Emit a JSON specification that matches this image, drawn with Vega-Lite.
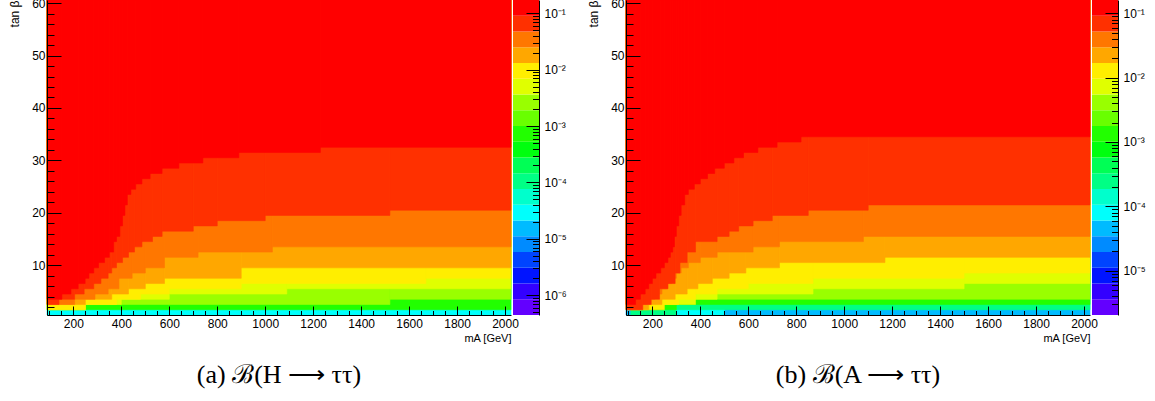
{
"$schema": "https://vega.github.io/schema/vega-lite/v6.json",
"background": "white",
"padding": {"left": 7, "top": -3, "right": 5, "bottom": 5},
"config": {
  "view": {"stroke": null},
  "font": "Liberation Sans",
  "axis": {"labelFont": "Liberation Sans", "titleFont": "Liberation Sans", "labelColor": "black", "titleColor": "black", "tickColor": "black", "domainColor": "black", "grid": false, "labelFlush": false, "labelOverlap": false, "titleFontWeight": "normal", "labelFontSize": 12, "titleFontSize": 12, "tickOpacity": 1},
  "title": {"font": "Liberation Serif", "fontSize": 26, "fontWeight": "normal", "color": "black"}
},
"datasets": {
"heatA": [
{"m0":90,"m1":2025,"t":0.5,"br":2.92e-5},
{"m0":90,"m1":2025,"t":1.5,"br":7.27e-4},
{"m0":90,"m1":1520,"t":2.5,"br":2.63e-3},{"m0":1520,"m1":2025,"t":3.5,"br":2.63e-3},
{"m0":90,"m1":250,"t":1.5,"br":0.005},{"m0":250,"m1":400,"t":2.5,"br":0.005},{"m0":400,"m1":600,"t":3.5,"br":0.005},{"m0":600,"m1":1090,"t":4.5,"br":0.005},{"m0":1090,"m1":2025,"t":5.5,"br":0.005},
{"m0":90,"m1":250,"t":1.5,"br":0.00951},{"m0":250,"m1":380,"t":2.5,"br":0.00951},{"m0":380,"m1":480,"t":3.5,"br":0.00951},{"m0":480,"m1":600,"t":4.5,"br":0.00951},{"m0":600,"m1":900,"t":5.5,"br":0.00951},{"m0":900,"m1":1670,"t":6.5,"br":0.00951},{"m0":1670,"m1":2025,"t":7.5,"br":0.00951},
{"m0":90,"m1":250,"t":2.5,"br":0.0181},{"m0":250,"m1":360,"t":3.5,"br":0.0181},{"m0":360,"m1":430,"t":4.5,"br":0.0181},{"m0":430,"m1":500,"t":5.5,"br":0.0181},{"m0":500,"m1":580,"t":6.5,"br":0.0181},{"m0":580,"m1":900,"t":7.5,"br":0.0181},{"m0":900,"m1":2025,"t":9.5,"br":0.0181},
{"m0":90,"m1":205,"t":2.5,"br":0.0344},{"m0":205,"m1":290,"t":3.5,"br":0.0344},{"m0":290,"m1":345,"t":4.5,"br":0.0344},{"m0":345,"m1":390,"t":5.5,"br":0.0344},{"m0":390,"m1":445,"t":7.5,"br":0.0344},{"m0":445,"m1":500,"t":8.5,"br":0.0344},{"m0":500,"m1":580,"t":9.5,"br":0.0344},{"m0":580,"m1":720,"t":11.5,"br":0.0344},{"m0":720,"m1":1030,"t":12.5,"br":0.0344},{"m0":1030,"m1":2025,"t":13.5,"br":0.0344},
{"m0":90,"m1":140,"t":2.5,"br":0.0655},{"m0":140,"m1":205,"t":3.5,"br":0.0655},{"m0":205,"m1":245,"t":4.5,"br":0.0655},{"m0":245,"m1":285,"t":5.5,"br":0.0655},{"m0":285,"m1":315,"t":6.5,"br":0.0655},{"m0":315,"m1":345,"t":7.5,"br":0.0655},{"m0":345,"m1":360,"t":8.5,"br":0.0655},{"m0":360,"m1":380,"t":9.5,"br":0.0655},{"m0":380,"m1":405,"t":10.5,"br":0.0655},{"m0":405,"m1":430,"t":11.5,"br":0.0655},{"m0":430,"m1":455,"t":12.5,"br":0.0655},{"m0":455,"m1":486,"t":13.5,"br":0.0655},{"m0":486,"m1":530,"t":14.5,"br":0.0655},{"m0":530,"m1":570,"t":15.5,"br":0.0655},{"m0":570,"m1":700,"t":16.5,"br":0.0655},{"m0":700,"m1":800,"t":17.5,"br":0.0655},{"m0":800,"m1":1000,"t":18.5,"br":0.0655},{"m0":1000,"m1":1520,"t":19.5,"br":0.0655},{"m0":1520,"m1":2025,"t":20.5,"br":0.0655},
{"m0":90,"m1":152,"t":3.5,"br":0.1245},{"m0":152,"m1":190,"t":4.5,"br":0.1245},{"m0":190,"m1":220,"t":5.5,"br":0.1245},{"m0":220,"m1":249,"t":6.5,"br":0.1245},{"m0":249,"m1":265,"t":7.5,"br":0.1245},{"m0":265,"m1":285,"t":8.5,"br":0.1245},{"m0":285,"m1":305,"t":9.5,"br":0.1245},{"m0":305,"m1":330,"t":10.5,"br":0.1245},{"m0":330,"m1":350,"t":11.5,"br":0.1245},{"m0":350,"m1":368,"t":12.5,"br":0.1245},{"m0":368,"m1":380,"t":14.5,"br":0.1245},{"m0":380,"m1":394,"t":15.5,"br":0.1245},{"m0":394,"m1":405,"t":17.5,"br":0.1245},{"m0":405,"m1":415,"t":19.5,"br":0.1245},{"m0":415,"m1":425,"t":21.5,"br":0.1245},{"m0":425,"m1":440,"t":23.5,"br":0.1245},{"m0":440,"m1":460,"t":24.5,"br":0.1245},{"m0":460,"m1":486,"t":25.5,"br":0.1245},{"m0":486,"m1":520,"t":26.5,"br":0.1245},{"m0":520,"m1":570,"t":27.5,"br":0.1245},{"m0":570,"m1":640,"t":28.5,"br":0.1245},{"m0":640,"m1":740,"t":29.5,"br":0.1245},{"m0":740,"m1":890,"t":30.5,"br":0.1245},{"m0":890,"m1":1230,"t":31.5,"br":0.1245},{"m0":1230,"m1":2025,"t":32.5,"br":0.1245}
],
"heatB": [
{"m0":90,"m1":2025,"t":0.5,"br":4.54e-5},
{"m0":300,"m1":500,"t":0.5,"br":7.97e-5},
{"m0":110,"m1":300,"t":0.5,"br":2.46e-4},{"m0":300,"m1":2025,"t":1.5,"br":2.46e-4},
{"m0":110,"m1":300,"t":1.5,"br":1.34e-3},{"m0":300,"m1":2025,"t":2.5,"br":1.34e-3},
{"m0":90,"m1":300,"t":2.5,"br":4.13e-3},{"m0":300,"m1":2025,"t":3.5,"br":4.13e-3},
{"m0":90,"m1":380,"t":2.5,"br":7.25e-3},{"m0":380,"m1":470,"t":3.5,"br":7.25e-3},{"m0":470,"m1":870,"t":4.5,"br":7.25e-3},{"m0":870,"m1":1500,"t":5.5,"br":7.25e-3},{"m0":1500,"m1":2025,"t":6.5,"br":7.25e-3},
{"m0":90,"m1":250,"t":1.5,"br":0.0127},{"m0":250,"m1":310,"t":2.5,"br":0.0127},{"m0":310,"m1":380,"t":3.5,"br":0.0127},{"m0":380,"m1":470,"t":4.5,"br":0.0127},{"m0":470,"m1":600,"t":5.5,"br":0.0127},{"m0":600,"m1":870,"t":6.5,"br":0.0127},{"m0":870,"m1":1500,"t":7.5,"br":0.0127},{"m0":1500,"m1":2025,"t":8.5,"br":0.0127},
{"m0":90,"m1":185,"t":1.5,"br":0.0224},{"m0":185,"m1":240,"t":2.5,"br":0.0224},{"m0":240,"m1":295,"t":3.5,"br":0.0224},{"m0":295,"m1":345,"t":4.5,"br":0.0224},{"m0":345,"m1":390,"t":5.5,"br":0.0224},{"m0":390,"m1":450,"t":6.5,"br":0.0224},{"m0":450,"m1":520,"t":7.5,"br":0.0224},{"m0":520,"m1":590,"t":8.5,"br":0.0224},{"m0":590,"m1":730,"t":9.5,"br":0.0224},{"m0":730,"m1":1170,"t":10.5,"br":0.0224},{"m0":1170,"m1":2025,"t":11.5,"br":0.0224},
{"m0":90,"m1":150,"t":1.5,"br":0.0393},{"m0":150,"m1":180,"t":2.5,"br":0.0393},{"m0":180,"m1":210,"t":3.5,"br":0.0393},{"m0":210,"m1":240,"t":4.5,"br":0.0393},{"m0":240,"m1":260,"t":5.5,"br":0.0393},{"m0":260,"m1":280,"t":6.5,"br":0.0393},{"m0":280,"m1":300,"t":7.5,"br":0.0393},{"m0":300,"m1":320,"t":8.5,"br":0.0393},{"m0":320,"m1":350,"t":9.5,"br":0.0393},{"m0":350,"m1":400,"t":10.5,"br":0.0393},{"m0":400,"m1":470,"t":11.5,"br":0.0393},{"m0":470,"m1":620,"t":12.5,"br":0.0393},{"m0":620,"m1":730,"t":13.5,"br":0.0393},{"m0":730,"m1":1080,"t":14.5,"br":0.0393},{"m0":1080,"m1":2025,"t":15.5,"br":0.0393},
{"m0":90,"m1":160,"t":1.5,"br":0.0691},{"m0":160,"m1":195,"t":2.5,"br":0.0691},{"m0":195,"m1":230,"t":3.5,"br":0.0691},{"m0":230,"m1":265,"t":5.5,"br":0.0691},{"m0":265,"m1":295,"t":6.5,"br":0.0691},{"m0":295,"m1":315,"t":8.5,"br":0.0691},{"m0":315,"m1":345,"t":10.5,"br":0.0691},{"m0":345,"m1":380,"t":12.5,"br":0.0691},{"m0":380,"m1":470,"t":14.5,"br":0.0691},{"m0":470,"m1":520,"t":15.5,"br":0.0691},{"m0":520,"m1":560,"t":16.5,"br":0.0691},{"m0":560,"m1":620,"t":17.5,"br":0.0691},{"m0":620,"m1":700,"t":18.5,"br":0.0691},{"m0":700,"m1":850,"t":19.5,"br":0.0691},{"m0":850,"m1":1100,"t":20.5,"br":0.0691},{"m0":1100,"m1":2025,"t":21.5,"br":0.0691},
{"m0":90,"m1":130,"t":2.5,"br":0.1215},{"m0":130,"m1":150,"t":3.5,"br":0.1215},{"m0":150,"m1":170,"t":4.5,"br":0.1215},{"m0":170,"m1":185,"t":5.5,"br":0.1215},{"m0":185,"m1":200,"t":6.5,"br":0.1215},{"m0":200,"m1":215,"t":7.5,"br":0.1215},{"m0":215,"m1":235,"t":8.5,"br":0.1215},{"m0":235,"m1":250,"t":9.5,"br":0.1215},{"m0":250,"m1":265,"t":10.5,"br":0.1215},{"m0":265,"m1":275,"t":11.5,"br":0.1215},{"m0":275,"m1":285,"t":12.5,"br":0.1215},{"m0":285,"m1":292,"t":13.5,"br":0.1215},{"m0":292,"m1":300,"t":15.5,"br":0.1215},{"m0":300,"m1":310,"t":17.5,"br":0.1215},{"m0":310,"m1":320,"t":19.5,"br":0.1215},{"m0":320,"m1":335,"t":21.5,"br":0.1215},{"m0":335,"m1":350,"t":23.5,"br":0.1215},{"m0":350,"m1":375,"t":24.5,"br":0.1215},{"m0":375,"m1":400,"t":25.5,"br":0.1215},{"m0":400,"m1":430,"t":26.5,"br":0.1215},{"m0":430,"m1":460,"t":27.5,"br":0.1215},{"m0":460,"m1":500,"t":28.5,"br":0.1215},{"m0":500,"m1":540,"t":29.5,"br":0.1215},{"m0":540,"m1":580,"t":30.5,"br":0.1215},{"m0":580,"m1":640,"t":31.5,"br":0.1215},{"m0":640,"m1":720,"t":32.5,"br":0.1215},{"m0":720,"m1":820,"t":33.5,"br":0.1215},{"m0":820,"m1":2025,"t":34.5,"br":0.1215}
],
"barA": [
{"z0":4.467e-7,"z1":8.50e-7},{"z0":8.50e-7,"z1":1.616e-6},{"z0":1.616e-6,"z1":3.074e-6},{"z0":3.074e-6,"z1":5.848e-6},{"z0":5.848e-6,"z1":1.112e-5},{"z0":1.112e-5,"z1":2.116e-5},{"z0":2.116e-5,"z1":4.024e-5},{"z0":4.024e-5,"z1":7.656e-5},{"z0":7.656e-5,"z1":1.456e-4},{"z0":1.456e-4,"z1":2.770e-4},{"z0":2.770e-4,"z1":5.268e-4},{"z0":5.268e-4,"z1":1.002e-3},{"z0":1.002e-3,"z1":1.906e-3},{"z0":1.906e-3,"z1":3.626e-3},{"z0":3.626e-3,"z1":6.897e-3},{"z0":6.897e-3,"z1":1.312e-2},{"z0":1.312e-2,"z1":2.495e-2},{"z0":2.495e-2,"z1":4.747e-2},{"z0":4.747e-2,"z1":9.03e-2},{"z0":9.03e-2,"z1":0.1718}
],
"barB": [
{"z0":2.042e-6,"z1":3.587e-6},{"z0":3.587e-6,"z1":6.303e-6},{"z0":6.303e-6,"z1":1.108e-5},{"z0":1.108e-5,"z1":1.947e-5},{"z0":1.947e-5,"z1":3.421e-5},{"z0":3.421e-5,"z1":6.012e-5},{"z0":6.012e-5,"z1":1.056e-4},{"z0":1.056e-4,"z1":1.856e-4},{"z0":1.856e-4,"z1":3.262e-4},{"z0":3.262e-4,"z1":5.735e-4},{"z0":5.735e-4,"z1":1.008e-3},{"z0":1.008e-3,"z1":1.771e-3},{"z0":1.771e-3,"z1":3.112e-3},{"z0":3.112e-3,"z1":5.468e-3},{"z0":5.468e-3,"z1":9.609e-3},{"z0":9.609e-3,"z1":1.689e-2},{"z0":1.689e-2,"z1":2.968e-2},{"z0":2.968e-2,"z1":5.216e-2},{"z0":5.216e-2,"z1":9.166e-2},{"z0":9.166e-2,"z1":0.1611}
],
"none": []
},
"resolve": {"scale": {"color": "independent", "stroke": "independent", "x": "independent", "y": "independent"}},
"spacing": 2,
"bounds": "flush",
"hconcat": [
{
"width": 464, "height": 315,
"data": {"name": "heatA"},
"title": {"text": "(a)   ℬ(H ⟶ ττ)", "orient": "bottom", "anchor": "middle", "offset": 19},
"mark": {"type": "rect", "strokeWidth": 0.6},
"encoding": {
 "x": {"field": "m0", "type": "quantitative", "scale": {"domain": [90, 2025], "nice": false, "zero": false},
   "axis": {"zindex": 2, "values": [100,150,200,250,300,350,400,450,500,550,600,650,700,750,800,850,900,950,1000,1050,1100,1150,1200,1250,1300,1350,1400,1450,1500,1550,1600,1650,1700,1750,1800,1850,1900,1950,2000],
     "format": "d", "labelExpr": "datum.value % 200 === 0 ? datum.label : ''",
     "tickSize": {"condition": {"test": "datum.value % 200 === 0", "value": -9}, "value": -4.5},
     "labelPadding": 12, "title": "mA [GeV]", "titleX": 464, "titleY": 17, "titleAlign": "right", "titleBaseline": "top", "titleFontSize": 11}},
 "x2": {"field": "m1"},
 "y": {"field": "t", "type": "quantitative", "scale": {"domain": [0.5, 60.6], "nice": false, "zero": false},
   "axis": {"zindex": 2, "values": [2,4,6,8,10,12,14,16,18,20,22,24,26,28,30,32,34,36,38,40,42,44,46,48,50,52,54,56,58,60],
     "labelExpr": "datum.value % 10 === 0 ? datum.label : ''",
     "tickSize": {"condition": {"test": "datum.value % 10 === 0", "value": -14}, "value": -7},
     "labelPadding": 16, "title": "tan β", "titleX": -38, "titleY": 0, "titleAlign": "right", "titleBaseline": "top", "titleAngle": -90}},
 "y2": {"datum": 60.6},
 "color": {"field": "br", "type": "quantitative", "legend": null,
   "scale": {"type": "threshold", "domain": [8.50e-7,1.616e-6,3.074e-6,5.848e-6,1.112e-5,2.116e-5,4.024e-5,7.656e-5,1.456e-4,2.770e-4,5.268e-4,1.002e-3,1.906e-3,3.626e-3,6.897e-3,1.312e-2,2.495e-2,4.747e-2,9.03e-2],
     "range": ["#6300FF","#3300FF","#0014FF","#0044FF","#008BFF","#00BBFF","#00FFFC","#00FFCC","#00FF85","#00FF55","#00FF0E","#22FF00","#69FF00","#99FF00","#E0FF00","#FFEE00","#FFA700","#FF7700","#FF3000","#FF0000"]}},
 "stroke": {"field": "br", "type": "quantitative", "legend": null,
   "scale": {"type": "threshold", "domain": [8.50e-7,1.616e-6,3.074e-6,5.848e-6,1.112e-5,2.116e-5,4.024e-5,7.656e-5,1.456e-4,2.770e-4,5.268e-4,1.002e-3,1.906e-3,3.626e-3,6.897e-3,1.312e-2,2.495e-2,4.747e-2,9.03e-2],
     "range": ["#6300FF","#3300FF","#0014FF","#0044FF","#008BFF","#00BBFF","#00FFFC","#00FFCC","#00FF85","#00FF55","#00FF0E","#22FF00","#69FF00","#99FF00","#E0FF00","#FFEE00","#FFA700","#FF7700","#FF3000","#FF0000"]}}
}
},
{
"width": 26, "height": 315,
"data": {"name": "barA"},
"mark": {"type": "rect"},
"encoding": {
 "y": {"field": "z0", "type": "quantitative", "scale": {"type": "log", "domain": [4.467e-7, 0.1718], "nice": false},
   "axis": {"zindex": 2, "orient": "right", "title": null,
     "values": [5e-7,6e-7,7e-7,8e-7,9e-7,1e-6,2e-6,3e-6,4e-6,5e-6,6e-6,7e-6,8e-6,9e-6,1e-5,2e-5,3e-5,4e-5,5e-5,6e-5,7e-5,8e-5,9e-5,1e-4,2e-4,3e-4,4e-4,5e-4,6e-4,7e-4,8e-4,9e-4,0.001,0.002,0.003,0.004,0.005,0.006,0.007,0.008,0.009,0.01,0.02,0.03,0.04,0.05,0.06,0.07,0.08,0.09,0.1],
     "labelExpr": "abs(log(datum.value)/LN10 - round(log(datum.value)/LN10)) < 0.001 ? ['10⁰','10⁻¹','10⁻²','10⁻³','10⁻⁴','10⁻⁵','10⁻⁶','10⁻⁷'][-round(log(datum.value)/LN10)] : ''",
     "tickSize": {"condition": {"test": "abs(log(datum.value)/LN10 - round(log(datum.value)/LN10)) < 0.001", "value": -13}, "value": -6.5},
     "labelPadding": 18}},
 "y2": {"field": "z1"},
 "color": {"field": "z0", "type": "quantitative", "legend": null,
   "scale": {"type": "threshold", "domain": [8.50e-7,1.616e-6,3.074e-6,5.848e-6,1.112e-5,2.116e-5,4.024e-5,7.656e-5,1.456e-4,2.770e-4,5.268e-4,1.002e-3,1.906e-3,3.626e-3,6.897e-3,1.312e-2,2.495e-2,4.747e-2,9.03e-2],
     "range": ["#6300FF","#3300FF","#0014FF","#0044FF","#008BFF","#00BBFF","#00FFFC","#00FFCC","#00FF85","#00FF55","#00FF0E","#22FF00","#69FF00","#99FF00","#E0FF00","#FFEE00","#FFA700","#FF7700","#FF3000","#FF0000"]}}
}
},
{
"width": 83, "height": 315,
"data": {"name": "none"},
"mark": {"type": "point"}
},
{
"width": 464, "height": 315,
"data": {"name": "heatB"},
"title": {"text": "(b)   ℬ(A ⟶ ττ)", "orient": "bottom", "anchor": "middle", "offset": 19},
"mark": {"type": "rect", "strokeWidth": 0.6},
"encoding": {
 "x": {"field": "m0", "type": "quantitative", "scale": {"domain": [90, 2025], "nice": false, "zero": false},
   "axis": {"zindex": 2, "values": [100,150,200,250,300,350,400,450,500,550,600,650,700,750,800,850,900,950,1000,1050,1100,1150,1200,1250,1300,1350,1400,1450,1500,1550,1600,1650,1700,1750,1800,1850,1900,1950,2000],
     "format": "d", "labelExpr": "datum.value % 200 === 0 ? datum.label : ''",
     "tickSize": {"condition": {"test": "datum.value % 200 === 0", "value": -9}, "value": -4.5},
     "labelPadding": 12, "title": "mA [GeV]", "titleX": 464, "titleY": 17, "titleAlign": "right", "titleBaseline": "top", "titleFontSize": 11}},
 "x2": {"field": "m1"},
 "y": {"field": "t", "type": "quantitative", "scale": {"domain": [0.5, 60.6], "nice": false, "zero": false},
   "axis": {"zindex": 2, "values": [2,4,6,8,10,12,14,16,18,20,22,24,26,28,30,32,34,36,38,40,42,44,46,48,50,52,54,56,58,60],
     "labelExpr": "datum.value % 10 === 0 ? datum.label : ''",
     "tickSize": {"condition": {"test": "datum.value % 10 === 0", "value": -14}, "value": -7},
     "labelPadding": 16, "title": "tan β", "titleX": -38, "titleY": 0, "titleAlign": "right", "titleBaseline": "top", "titleAngle": -90}},
 "y2": {"datum": 60.6},
 "color": {"field": "br", "type": "quantitative", "legend": null,
   "scale": {"type": "threshold", "domain": [3.587e-6,6.303e-6,1.108e-5,1.947e-5,3.421e-5,6.012e-5,1.056e-4,1.856e-4,3.262e-4,5.735e-4,1.008e-3,1.771e-3,3.112e-3,5.468e-3,9.609e-3,1.689e-2,2.968e-2,5.216e-2,9.166e-2],
     "range": ["#6300FF","#3300FF","#0014FF","#0044FF","#008BFF","#00BBFF","#00FFFC","#00FFCC","#00FF85","#00FF55","#00FF0E","#22FF00","#69FF00","#99FF00","#E0FF00","#FFEE00","#FFA700","#FF7700","#FF3000","#FF0000"]}},
 "stroke": {"field": "br", "type": "quantitative", "legend": null,
   "scale": {"type": "threshold", "domain": [3.587e-6,6.303e-6,1.108e-5,1.947e-5,3.421e-5,6.012e-5,1.056e-4,1.856e-4,3.262e-4,5.735e-4,1.008e-3,1.771e-3,3.112e-3,5.468e-3,9.609e-3,1.689e-2,2.968e-2,5.216e-2,9.166e-2],
     "range": ["#6300FF","#3300FF","#0014FF","#0044FF","#008BFF","#00BBFF","#00FFFC","#00FFCC","#00FF85","#00FF55","#00FF0E","#22FF00","#69FF00","#99FF00","#E0FF00","#FFEE00","#FFA700","#FF7700","#FF3000","#FF0000"]}}
}
},
{
"width": 26, "height": 315,
"data": {"name": "barB"},
"mark": {"type": "rect"},
"encoding": {
 "y": {"field": "z0", "type": "quantitative", "scale": {"type": "log", "domain": [2.042e-6, 0.1611], "nice": false},
   "axis": {"zindex": 2, "orient": "right", "title": null,
     "values": [3e-6,4e-6,5e-6,6e-6,7e-6,8e-6,9e-6,1e-5,2e-5,3e-5,4e-5,5e-5,6e-5,7e-5,8e-5,9e-5,1e-4,2e-4,3e-4,4e-4,5e-4,6e-4,7e-4,8e-4,9e-4,0.001,0.002,0.003,0.004,0.005,0.006,0.007,0.008,0.009,0.01,0.02,0.03,0.04,0.05,0.06,0.07,0.08,0.09,0.1],
     "labelExpr": "abs(log(datum.value)/LN10 - round(log(datum.value)/LN10)) < 0.001 ? ['10⁰','10⁻¹','10⁻²','10⁻³','10⁻⁴','10⁻⁵','10⁻⁶','10⁻⁷'][-round(log(datum.value)/LN10)] : ''",
     "tickSize": {"condition": {"test": "abs(log(datum.value)/LN10 - round(log(datum.value)/LN10)) < 0.001", "value": -13}, "value": -6.5},
     "labelPadding": 18}},
 "y2": {"field": "z1"},
 "color": {"field": "z0", "type": "quantitative", "legend": null,
   "scale": {"type": "threshold", "domain": [3.587e-6,6.303e-6,1.108e-5,1.947e-5,3.421e-5,6.012e-5,1.056e-4,1.856e-4,3.262e-4,5.735e-4,1.008e-3,1.771e-3,3.112e-3,5.468e-3,9.609e-3,1.689e-2,2.968e-2,5.216e-2,9.166e-2],
     "range": ["#6300FF","#3300FF","#0014FF","#0044FF","#008BFF","#00BBFF","#00FFFC","#00FFCC","#00FF85","#00FF55","#00FF0E","#22FF00","#69FF00","#99FF00","#E0FF00","#FFEE00","#FFA700","#FF7700","#FF3000","#FF0000"]}}
}
}
]
}
